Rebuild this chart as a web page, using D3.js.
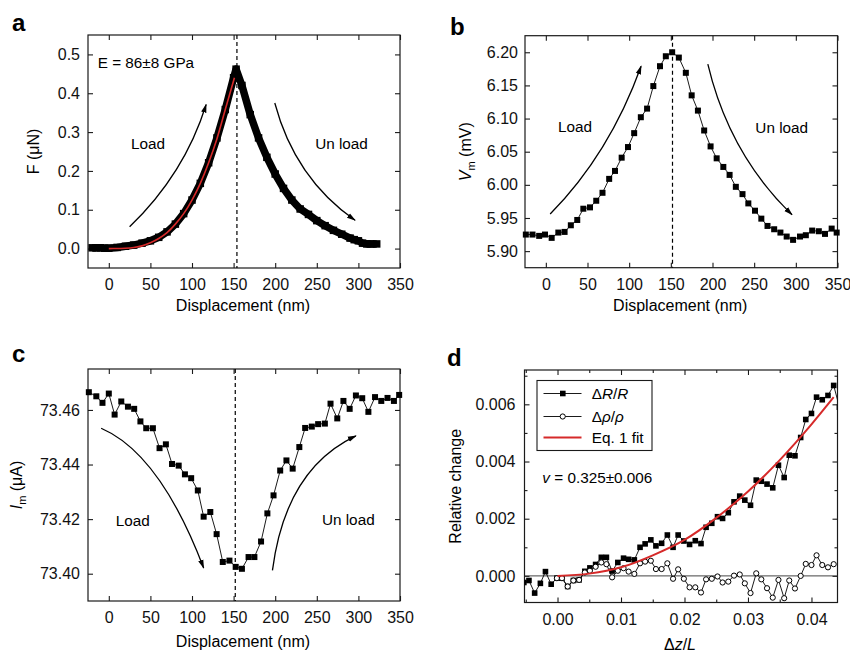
<!DOCTYPE html>
<html>
<head>
<meta charset="utf-8">
<script src="https://cdnjs.cloudflare.com/ajax/libs/d3/7.8.5/d3.min.js"></script>
<style>
  body { margin: 0; background: #fff; }
  text { font-family: "Liberation Sans", Arial, sans-serif; }
</style>
</head>
<body>
<div id="chart"></div>
<script>
// ---- data ----

// a: force vs displacement (load + unload)
var aDisp = [-20, -15, -10, -5, 0, 10, 20, 30, 40, 50, 60, 70, 80, 90, 100, 110, 120, 130, 140, 150, 153,
  160, 170, 180, 190, 200, 210, 220, 230, 240, 250, 260, 270, 280, 290, 295, 300, 305, 310, 315, 322];
var aForce = [0.002, 0.002, 0.002, 0.001, 0.001, 0.003, 0.006, 0.009, 0.014, 0.02, 0.029, 0.043, 0.063, 0.09, 0.125, 0.168, 0.221, 0.285, 0.358, 0.44, 0.462,
  0.42, 0.345, 0.285, 0.235, 0.192, 0.155, 0.125, 0.102, 0.088, 0.072, 0.059, 0.047, 0.037, 0.027, 0.023, 0.02, 0.014, 0.012, 0.012, 0.012];
var aFitDisp = [0, 10, 20, 30, 40, 50, 60, 70, 80, 90, 100, 110, 120, 130, 140, 151];
var aFitForce = [0, 0.0001, 0.001, 0.003, 0.007, 0.015, 0.026, 0.041, 0.063, 0.09, 0.125, 0.168, 0.221, 0.283, 0.358, 0.44];
var aPeakDisp = 154;

// b: membrane voltage
var bDisp = [-24, -16, -8, -1, 7, 15, 22.5, 30, 37.7, 45, 53, 60.5, 68, 76, 83, 91, 98.6, 106, 114, 121.5,
  129, 137, 144, 151.6, 159.6, 168, 175, 182.5, 190, 197.7, 205, 213, 220.5, 228, 236, 243, 251, 258.6, 266, 274,
  281.5, 289, 296.7, 305, 312, 319.6, 327.6, 335, 343, 349];
var bVm = [5.925, 5.925, 5.923, 5.925, 5.920, 5.928, 5.929, 5.939, 5.947, 5.964, 5.966, 5.976, 5.988, 6.009, 6.021, 6.041, 6.057, 6.078, 6.102, 6.115,
  6.149, 6.179, 6.194, 6.200, 6.192, 6.169, 6.135, 6.112, 6.082, 6.058, 6.040, 6.027, 6.015, 5.997, 5.986, 5.972, 5.961, 5.949, 5.938, 5.933,
  5.928, 5.922, 5.917, 5.922, 5.924, 5.931, 5.930, 5.926, 5.934, 5.928];
var bPeakDisp = 152;

// c: current
var cDisp = [-24, -15, -7.6, 0, 7, 15, 23, 30.5, 38, 45, 53, 61, 68.6, 76, 84, 91.5, 99, 107, 114, 122,
  129.6, 137, 145, 152.5, 160, 168, 175, 183, 190.6, 198, 206, 213.5, 221, 229, 236, 244, 251.6, 259.7, 266.5, 274.6,
  282, 289.5, 297, 304.6, 312, 320, 327.5, 335, 342.7, 349];
var cIm = [73.4665, 73.465, 73.4626, 73.466, 73.4583, 73.4631, 73.4612, 73.4604, 73.4558, 73.4533, 73.4533, 73.446, 73.4474, 73.4402, 73.4396, 73.4364, 73.435, 73.4305, 73.4209, 73.4226,
  73.4145, 73.4043, 73.4048, 73.4025, 73.4018, 73.4061, 73.4061, 73.4118, 73.4221, 73.4287, 73.4378, 73.4415, 73.4385, 73.4464, 73.4534, 73.4539, 73.4548, 73.455, 73.4623, 73.4569,
  73.4633, 73.4604, 73.4653, 73.4643, 73.4593, 73.4647, 73.4633, 73.4644, 73.4633, 73.4655];
var cPeakDisp = 152;

// d: relative change vs strain
var dStrain = [-0.0053, -0.0045, -0.0036, -0.0027, -0.0019, -0.001, -0.0001, 0.0007, 0.0016, 0.0025,
  0.0034, 0.0043, 0.0051, 0.006, 0.0069, 0.0077, 0.0086, 0.0095, 0.0104, 0.0112,
  0.0121, 0.013, 0.0138, 0.0147, 0.0155, 0.0164, 0.0173, 0.0182, 0.019, 0.0199,
  0.0208, 0.0217, 0.0226, 0.0234, 0.0243, 0.0252, 0.026, 0.0269, 0.0278, 0.0287,
  0.0295, 0.0304, 0.0313, 0.0321, 0.033, 0.0339, 0.0348, 0.0357, 0.0365, 0.0374,
  0.0383, 0.0391, 0.04, 0.0408, 0.0417, 0.0426, 0.0435, 0.0444];
var dResChange = [-0.00023, -0.00016, -0.0006, -0.00026, 0.00015, -0.00029, -0.00008, -0.00008, -0.00037, -0.00016,
  -0.00014, 0.00016, 0.00028, 0.0004, 0.00065, 0.00065, 0.00017, 0.00047, 0.00062, 0.00058,
  0.00056, 0.001, 0.00112, 0.00126, 0.00105, 0.00114, 0.00143, 0.001, 0.00143, 0.00122,
  0.0011, 0.00123, 0.00113, 0.0017, 0.00184, 0.00207, 0.00201, 0.00221, 0.00259, 0.00279,
  0.00265, 0.00247, 0.00335, 0.00331, 0.00321, 0.00308, 0.00387, 0.00344, 0.00422, 0.0042,
  0.00484, 0.00547, 0.00568, 0.00625, 0.00616, 0.00631, 0.00666, 0.0059];
var dRhoChange = [null, null, null, null, null, null, -0.00008, -0.00008, -0.00037, -0.00016,
  -0.00014, 0.00012, 0.00018, 0.00032, 0.00047, 0.00041, -0.00005, 0.00018, 0.00027, 0.00015,
  0.00007, 0.00044, 0.0005, 0.00053, 0.00024, 0.00024, 0.00044, -0.0001, 0.00023, -0.0001,
  -0.0004, -0.0004, -0.00058, -0.00012, -0.0001, -0.00002, -0.00023, -0.0002, 0.00001, 0.00005,
  -0.00026, -0.0006, 0.00009, -0.00012, -0.00043, -0.00076, -0.00014, -0.00078, -0.00016, -0.00044,
  0.0, 0.00042, 0.00038, 0.00072, 0.00038, 0.0003, 0.00041, null];
var dFitStrain = [0, 0.005, 0.01, 0.015, 0.02, 0.025, 0.03, 0.035, 0.04, 0.0435];
var dFitChange = [0, 0.00008, 0.0003, 0.00072, 0.00126, 0.00203, 0.00295, 0.00405, 0.0053, 0.00625];

// tick values
var dispTicks = [0, 50, 100, 150, 200, 250, 300, 350];
var forceTicks = [0, 0.1, 0.2, 0.3, 0.4, 0.5];
var vmTicks = [5.90, 5.95, 6.00, 6.05, 6.10, 6.15, 6.20];
var imTicks = [73.40, 73.42, 73.44, 73.46];
var strainTicks = [0, 0.01, 0.02, 0.03, 0.04];
var strainMinor = [-0.005, 0.005, 0.015, 0.025, 0.035];
var relTicks = [0, 0.002, 0.004, 0.006];
var relMinor = [0.001, 0.003, 0.005, 0.007];

var ink = "#1a1a1a";
var fitRed = "#d62a2a";

var svg = d3.select("#chart")
  .append("svg")
  .attr("width", 850)
  .attr("height", 654);

var defs = svg.append("defs");
defs.append("marker")
  .attr("id", "arrowhead")
  .attr("viewBox", "0 0 10 10")
  .attr("refX", 9)
  .attr("refY", 5)
  .attr("markerUnits", "userSpaceOnUse")
  .attr("markerWidth", 9)
  .attr("markerHeight", 9)
  .attr("orient", "auto")
  .append("path")
  .attr("d", "M0,2 L10,5 L0,8 Z")
  .attr("fill", "#000");

// one framed plot with inward ticks on all four sides
function makePanel(p) {
  var g = svg.append("g")
    .attr("transform", `translate(${p.left}, ${p.top})`);

  var x = d3.scaleLinear().domain(p.xDomain).range([0, p.width]);
  var y = d3.scaleLinear().domain(p.yDomain).range([p.height, 0]);

  function styleAxis(sel) {
    sel.select(".domain").remove();
    sel.attr("font-size", 16).attr("font-family", "\"Liberation Sans\", Arial, sans-serif");
    sel.selectAll("line").attr("stroke", ink).attr("stroke-width", 1.1);
    sel.selectAll("text").attr("fill", "#111");
  }

  g.append("g")
    .attr("transform", `translate(0, ${p.height})`)
    .call(d3.axisBottom(x).tickValues(p.xTicks).tickSizeInner(-5).tickSizeOuter(0).tickPadding(11).tickFormat(p.xFormat))
    .call(styleAxis);
  g.append("g")
    .call(d3.axisTop(x).tickValues(p.xTicks).tickSizeInner(-5).tickSizeOuter(0).tickFormat(""))
    .call(styleAxis);
  g.append("g")
    .call(d3.axisLeft(y).tickValues(p.yTicks).tickSizeInner(-5).tickSizeOuter(0).tickPadding(p.yPad).tickFormat(p.yFormat))
    .call(styleAxis);
  g.append("g")
    .attr("transform", `translate(${p.width}, 0)`)
    .call(d3.axisRight(y).tickValues(p.yTicks).tickSizeInner(-5).tickSizeOuter(0).tickFormat(""))
    .call(styleAxis);

  if (p.xMinor) {
    g.append("g").attr("transform", `translate(0, ${p.height})`)
      .call(d3.axisBottom(x).tickValues(p.xMinor).tickSizeInner(-3).tickSizeOuter(0).tickFormat(""))
      .call(styleAxis);
    g.append("g")
      .call(d3.axisTop(x).tickValues(p.xMinor).tickSizeInner(-3).tickSizeOuter(0).tickFormat(""))
      .call(styleAxis);
  }
  if (p.yMinor) {
    g.append("g")
      .call(d3.axisLeft(y).tickValues(p.yMinor).tickSizeInner(-3).tickSizeOuter(0).tickFormat(""))
      .call(styleAxis);
    g.append("g").attr("transform", `translate(${p.width}, 0)`)
      .call(d3.axisRight(y).tickValues(p.yMinor).tickSizeInner(-3).tickSizeOuter(0).tickFormat(""))
      .call(styleAxis);
  }

  g.append("clipPath")
    .attr("id", p.id + "-clip")
    .append("rect")
    .attr("width", p.width)
    .attr("height", p.height);

  g.append("rect")
    .attr("width", p.width)
    .attr("height", p.height)
    .attr("fill", "none")
    .attr("stroke", ink)
    .attr("stroke-width", 1.2);

  // panel letter
  svg.append("text")
    .attr("x", p.letterX)
    .attr("y", p.letterY)
    .attr("font-size", 24)
    .attr("font-weight", "bold")
    .text(p.id);

  return { g: g, x: x, y: y, width: p.width, height: p.height };
}

// title under the frame, baseline given from the frame bottom
function addXTitle(panel, parts, below) {
  var t = panel.g.append("text")
    .attr("x", panel.width / 2 - 1)
    .attr("y", panel.height + below)
    .attr("text-anchor", "middle")
    .attr("font-size", 16);
  parts.forEach(function(s) {
    t.append("tspan").attr("font-style", s[1] ? "italic" : null).text(s[0]);
  });
}

function addYTitle(panel, parts, offset) {
  var t = panel.g.append("text")
    .attr("transform", `translate(${offset}, ${panel.height / 2}) rotate(-90)`)
    .attr("text-anchor", "middle")
    .attr("font-size", 16);
  parts.forEach(function(s) {
    var ts = t.append("tspan").attr("font-style", s[1] ? "italic" : null).text(s[0]);
    if (s[2] === "sub") ts.attr("font-size", 11).attr("dy", "0.35em");
    if (s[2] === "up") ts.attr("dy", "-0.24em");
  });
}

function addArrow(panel, pts) {
  var path = d3.path();
  path.moveTo(panel.x(pts[0][0]), panel.y(pts[0][1]));
  path.quadraticCurveTo(panel.x(pts[1][0]), panel.y(pts[1][1]), panel.x(pts[2][0]), panel.y(pts[2][1]));
  panel.g.append("path")
    .attr("d", path.toString())
    .attr("fill", "none")
    .attr("stroke", "#000")
    .attr("stroke-width", 1.3)
    .attr("marker-end", "url(#arrowhead)");
}

function addNote(panel, px, py, str, anchor) {
  return panel.g.append("text")
    .attr("x", px)
    .attr("y", py)
    .attr("text-anchor", anchor || "middle")
    .attr("font-size", 15.3)
    .text(str);
}

function addPeakLine(panel, xv) {
  panel.g.append("line")
    .attr("x1", panel.x(xv)).attr("x2", panel.x(xv))
    .attr("y1", 0).attr("y2", panel.height)
    .attr("stroke", "#000")
    .attr("stroke-width", 1.2)
    .attr("stroke-dasharray", "4,3");
}

function addSquares(panel, data, size) {
  panel.g.append("g").selectAll("rect")
    .data(data)
    .enter()
    .append("rect")
    .attr("x", d => panel.x(d[0]) - size / 2)
    .attr("y", d => panel.y(d[1]) - size / 2)
    .attr("width", size)
    .attr("height", size)
    .attr("fill", "#000");
}

// ---- panel a ----
var A = makePanel({
  id: "a", left: 88, top: 35, width: 312, height: 233,
  xDomain: [-25, 350], yDomain: [-0.05, 0.55],
  xTicks: dispTicks, yTicks: forceTicks,
  xFormat: d3.format("d"), yFormat: d3.format(".1f"), yPad: 8,
  letterX: 12, letterY: 31
});
addPeakLine(A, aPeakDisp);
var aData = d3.zip(aDisp, aForce);
A.g.append("path")
  .datum(aData)
  .attr("d", d3.line().x(d => A.x(d[0])).y(d => A.y(d[1])))
  .attr("fill", "none")
  .attr("stroke", "#000")
  .attr("stroke-width", 7.5)
  .attr("stroke-linejoin", "round");
addSquares(A, aData, 7.5);
A.g.append("path")
  .datum(d3.zip(aFitDisp, aFitForce))
  .attr("d", d3.line().curve(d3.curveMonotoneX).x(d => A.x(d[0])).y(d => A.y(d[1])))
  .attr("fill", "none")
  .attr("stroke", fitRed)
  .attr("stroke-width", 1.6);
addArrow(A, [[25, 0.056], [91, 0.192], [117, 0.371]]);
addArrow(A, [[199.5, 0.375], [223.6, 0.181], [296, 0.073]]);
addNote(A, 60, 113.5, "Load");
addNote(A, 253.5, 113.5, "Un load");
addNote(A, 9.7, 33.3, "E = 86±8 GPa", "start");
addXTitle(A, [["Displacement (nm)"]], 43);
addYTitle(A, [["F (μN)"]], -49);

// ---- panel b ----
var B = makePanel({
  id: "b", left: 525, top: 35.7, width: 312.5, height: 232,
  xDomain: [-25, 350], yDomain: [5.875, 6.225],
  xTicks: dispTicks, yTicks: vmTicks,
  xFormat: d3.format("d"), yFormat: d3.format(".2f"), yPad: 7,
  letterX: 450, letterY: 35
});
addPeakLine(B, bPeakDisp);
var bData = d3.zip(bDisp, bVm);
B.g.append("path")
  .datum(bData)
  .attr("d", d3.line().x(d => B.x(d[0])).y(d => B.y(d[1])))
  .attr("fill", "none")
  .attr("stroke", "#000")
  .attr("stroke-width", 0.9);
addSquares(B, bData, 6);
addArrow(B, [[5.2, 5.956], [76.5, 6.047], [114.3, 6.179]]);
addArrow(B, [[194.4, 6.182], [220.1, 6.046], [295.4, 5.955]]);
addNote(B, 50, 96.3, "Load");
addNote(B, 256.7, 97.8, "Un load");
addXTitle(B, [["Displacement (nm)"]], 43);
addYTitle(B, [["V", true], ["m", false, "sub"], [" (mV)", false, "up"]], -54);

// ---- panel c ----
var C = makePanel({
  id: "c", left: 88, top: 369, width: 312, height: 232,
  xDomain: [-25, 350], yDomain: [73.39, 73.475],
  xTicks: dispTicks, yTicks: imTicks,
  xFormat: d3.format("d"), yFormat: d3.format(".2f"), yPad: 8,
  letterX: 12, letterY: 362
});
addPeakLine(C, cPeakDisp);
var cData = d3.zip(cDisp, cIm);
C.g.append("path")
  .datum(cData)
  .attr("d", d3.line().x(d => C.x(d[0])).y(d => C.y(d[1])))
  .attr("fill", "none")
  .attr("stroke", "#000")
  .attr("stroke-width", 0.9);
addSquares(C, cData, 6);
addArrow(C, [[-9.2, 73.4533], [61.6, 73.444], [114, 73.4021]]);
addArrow(C, [[196.7, 73.4012], [212.4, 73.4384], [297, 73.4505]]);
addNote(C, 44.7, 156.5, "Load");
addNote(C, 260.3, 155.5, "Un load");
addXTitle(C, [["Displacement (nm)"]], 46);
addYTitle(C, [["I", true], ["m", false, "sub"], [" (μA)", false, "up"]], -66);

// ---- panel d ----
var D = makePanel({
  id: "d", left: 524.5, top: 370, width: 313, height: 232.5,
  xDomain: [-0.0052, 0.0441], yDomain: [-0.00093, 0.0072],
  xTicks: strainTicks, yTicks: relTicks, xMinor: strainMinor, yMinor: relMinor,
  xFormat: d3.format(".2f"), yFormat: d3.format(".3f"), yPad: 9,
  letterX: 447, letterY: 366
});
var dPlot = D.g.append("g").attr("clip-path", "url(#d-clip)");
dPlot.append("line")
  .attr("x1", 0).attr("x2", D.width)
  .attr("y1", D.y(0)).attr("y2", D.y(0))
  .attr("stroke", "#444")
  .attr("stroke-width", 1);

var dResData = d3.zip(dStrain, dResChange);
var dRhoData = d3.zip(dStrain, dRhoChange).filter(d => d[1] !== null);

dPlot.append("path")
  .datum(dResData)
  .attr("d", d3.line().x(d => D.x(d[0])).y(d => D.y(d[1])))
  .attr("fill", "none")
  .attr("stroke", "#000")
  .attr("stroke-width", 0.9);
dPlot.append("g").selectAll("rect")
  .data(dResData)
  .enter()
  .append("rect")
  .attr("x", d => D.x(d[0]) - 2.8)
  .attr("y", d => D.y(d[1]) - 2.8)
  .attr("width", 5.6)
  .attr("height", 5.6)
  .attr("fill", "#000");

dPlot.append("path")
  .datum(dRhoData)
  .attr("d", d3.line().x(d => D.x(d[0])).y(d => D.y(d[1])))
  .attr("fill", "none")
  .attr("stroke", "#000")
  .attr("stroke-width", 0.9);
dPlot.append("g").selectAll("circle")
  .data(dRhoData)
  .enter()
  .append("circle")
  .attr("cx", d => D.x(d[0]))
  .attr("cy", d => D.y(d[1]))
  .attr("r", 2.6)
  .attr("fill", "#fff")
  .attr("stroke", "#000")
  .attr("stroke-width", 1);

dPlot.append("path")
  .datum(d3.zip(dFitStrain, dFitChange))
  .attr("d", d3.line().curve(d3.curveMonotoneX).x(d => D.x(d[0])).y(d => D.y(d[1])))
  .attr("fill", "none")
  .attr("stroke", fitRed)
  .attr("stroke-width", 2);

// legend
var legend = D.g.append("g").attr("transform", "translate(12.5, 10.5)");
legend.append("rect")
  .attr("width", 115)
  .attr("height", 70)
  .attr("fill", "#fff")
  .attr("stroke", ink)
  .attr("stroke-width", 1.1);
var legendRows = [
  { y: 13, label: [["Δ"], ["R", true], ["/"], ["R", true]], mark: "square" },
  { y: 36, label: [["Δ"], ["ρ", true], ["/"], ["ρ", true]], mark: "circle" },
  { y: 57, label: [["Eq. 1 fit"]], mark: "red" }
];
legendRows.forEach(function(r) {
  legend.append("line")
    .attr("x1", 6.5).attr("x2", 44.5)
    .attr("y1", r.y).attr("y2", r.y)
    .attr("stroke", r.mark === "red" ? fitRed : "#000")
    .attr("stroke-width", r.mark === "red" ? 2 : 0.9);
  if (r.mark === "square") {
    legend.append("rect").attr("x", 23).attr("y", r.y - 2.8).attr("width", 5.6).attr("height", 5.6).attr("fill", "#000");
  } else if (r.mark === "circle") {
    legend.append("circle").attr("cx", 25.7).attr("cy", r.y).attr("r", 2.6)
      .attr("fill", "#fff").attr("stroke", "#000").attr("stroke-width", 1);
  }
  var t = legend.append("text")
    .attr("x", 54.7)
    .attr("y", r.y + 5.5)
    .attr("font-size", 15.3);
  r.label.forEach(function(s) {
    t.append("tspan").attr("font-style", s[1] ? "italic" : null).text(s[0]);
  });
});

var nuText = D.g.append("text")
  .attr("x", 17.8)
  .attr("y", 112.5)
  .attr("font-size", 15.3);
nuText.append("tspan").attr("font-style", "italic").text("v");
nuText.append("tspan").text(" = 0.325±0.006");

addXTitle(D, [["Δ"], ["z", true], ["/"], ["L", true]], 47);
addYTitle(D, [["Relative change"]], -63.5);
</script>
</body>
</html>
